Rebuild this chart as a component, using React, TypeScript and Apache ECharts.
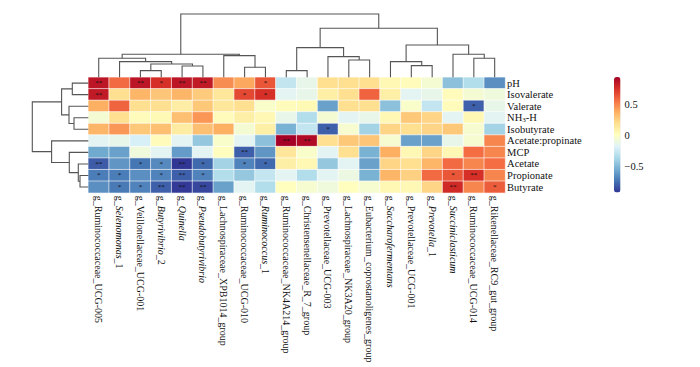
import React, { useEffect, useRef } from "react";
import * as echarts from "echarts";

// ---------- data ----------
const colNames = [
  "g_Ruminococcaceae_UCG-005",
  "g_Selenomonas_1",
  "g_Veillonellaceae_UCG-001",
  "g_Butyrivibrio_2",
  "g_Quinella",
  "g_Pseudobutyrivibrio",
  "g_Lachnospiraceae_XPB1014_group",
  "g_Ruminococcaceae_UCG-010",
  "g_Ruminococcus_1",
  "g_Ruminococcaceae_NK4A214_group",
  "g_Christensenellaceae_R_7_group",
  "g_Prevotellaceae_UCG-003",
  "g_Lachnospiraceae_NK3A20_group",
  "g_Eubacterium_coprostanoligenes_group",
  "g_Saccharofermentans",
  "g_Prevotellaceae_UCG-001",
  "g_Prevotella_1",
  "g_Succiniclasticum",
  "g_Ruminococcaceae_UCG-014",
  "g_Rikenellaceae_RC9_gut_group",
];
const italicGenera = [
  "Selenomonas",
  "Butyrivibrio",
  "Quinella",
  "Pseudobutyrivibrio",
  "Ruminococcus",
  "Saccharofermentans",
  "Prevotella",
  "Succiniclasticum",
];
const rowNames = [
  "pH",
  "Isovalerate",
  "Valerate",
  "NH3-H",
  "Isobutyrate",
  "Acetate:propinate",
  "MCP",
  "Acetate",
  "Propionate",
  "Butyrate",
];

// correlation values, one array per row (columns in dendrogram order)
const pH = [0.86, 0.58, 0.86, 0.76, 0.86, 0.84, 0.48, 0.4, 0.64, -0.27, -0.12, 0.2, 0.2, 0.2, 0.06, 0.03, -0.05, -0.46, -0.33, -0.64];
const isovalerate = [0.84, 0.2, 0.36, 0.3, 0.36, 0.28, 0.16, 0.68, 0.76, -0.15, -0.12, 0.11, 0.2, 0.6, 0.11, -0.15, -0.12, 0.03, -0.05, -0.08];
const valerate = [0.38, 0.6, 0.2, 0.2, 0.12, 0.29, 0.16, 0.2, -0.02, 0.03, 0.05, -0.58, 0.2, 0.2, -0.46, -0.02, -0.27, 0.03, -0.79, -0.12];
const nh3 = [-0.05, 0.2, 0.03, 0.05, 0.32, 0.45, 0.03, 0.11, 0.06, -0.12, -0.33, -0.05, -0.15, -0.12, 0.06, 0.29, 0.24, -0.15, 0.06, -0.15];
const isobutyrate = [0.36, 0.45, 0.29, 0.32, 0.13, 0.32, 0.38, -0.05, 0.11, -0.52, -0.27, -0.79, -0.04, -0.38, 0.24, 0.2, 0.24, 0.29, -0.04, -0.38];
const acetProp = [-0.15, -0.12, -0.2, 0.03, -0.15, -0.43, -0.02, -0.15, -0.46, 0.94, 0.9, 0.2, 0.29, 0.3, -0.04, -0.58, -0.58, -0.12, -0.04, 0.5];
const mcp = [-0.55, -0.58, -0.08, -0.15, -0.6, -0.15, 0.02, -0.79, -0.62, 0.16, -0.02, -0.15, 0.2, -0.52, 0.38, 0.06, 0.24, 0.06, 0.57, 0.5];
const acetate = [-0.8, -0.62, -0.72, -0.66, -0.91, -0.76, -0.38, -0.68, -0.76, 0.11, 0.06, -0.43, -0.15, -0.58, 0.24, 0.2, 0.36, 0.58, 0.5, 0.57];
const propionate = [-0.7, -0.7, -0.64, -0.68, -0.79, -0.68, -0.33, -0.43, -0.27, -0.15, -0.33, -0.15, -0.1, -0.52, 0.36, 0.26, 0.58, 0.64, 0.76, 0.5];
const butyrate = [-0.64, -0.71, -0.68, -0.79, -0.9, -0.86, -0.58, -0.15, -0.33, 0.02, -0.04, -0.08, 0.02, -0.04, 0.06, 0.06, 0.24, 0.78, 0.5, 0.62];
const corrRows = [pH, isovalerate, valerate, nh3, isobutyrate, acetProp, mcp, acetate, propionate, butyrate];

// significance marks
const sigPH = ["**", "", "**", "*", "**", "**", "", "", "*", "", "", "", "", "", "", "", "", "", "", ""];
const sigIsovalerate = ["**", "", "", "", "", "", "", "*", "*", "", "", "", "", "", "", "", "", "", "", ""];
const sigValerate = ["", "", "", "", "", "", "", "", "", "", "", "", "", "", "", "", "", "", "*", ""];
const sigNH3 = ["", "", "", "", "", "", "", "", "", "", "", "", "", "", "", "", "", "", "", ""];
const sigIsobutyrate = ["", "", "", "", "", "", "", "", "", "", "", "*", "", "", "", "", "", "", "", ""];
const sigAcetProp = ["", "", "", "", "", "", "", "", "", "**", "**", "", "", "", "", "", "", "", "", ""];
const sigMCP = ["", "", "", "", "", "", "", "**", "", "", "", "", "", "", "", "", "", "", "", ""];
const sigAcetate = ["**", "", "*", "*", "**", "*", "", "*", "*", "", "", "", "", "", "", "", "", "", "", ""];
const sigPropionate = ["*", "*", "", "*", "**", "*", "", "", "", "", "", "", "", "", "", "", "", "*", "**", ""];
const sigButyrate = ["", "*", "*", "**", "**", "**", "", "", "", "", "", "", "", "", "", "", "", "**", "", "*"];
const sigRows = [sigPH, sigIsovalerate, sigValerate, sigNH3, sigIsobutyrate, sigAcetProp, sigMCP, sigAcetate, sigPropionate, sigButyrate];

// hclust-style merges: negative = leaf (1-based, display order), positive = earlier merge; third = height
const colMerges: [number, number, number][] = [
  [-3, -4, 6.7],
  [-10, -11, 6.7],
  [-8, -9, 10],
  [-5, -6, 11.3],
  [-16, -17, 11.7],
  [1, 4, 13.3],
  [-2, 6, 15.7],
  [-15, 5, 15.7],
  [-13, -14, 17.3],
  [-1, 7, 19],
  [-19, -20, 19],
  [-12, 9, 20.7],
  [-7, 3, 21.7],
  [10, 13, 23],
  [-18, 11, 23],
  [2, 12, 29.7],
  [8, 15, 32.3],
  [16, 17, 49],
  [14, 18, 63.3],
];
const rowMerges: [number, number, number][] = [
  [-9, -10, 8.3],
  [-8, 1, 10],
  [-4, -5, 14.3],
  [-1, -2, 16],
  [-7, 2, 19],
  [-3, 3, 19.3],
  [4, 6, 26.7],
  [-6, 5, 36.7],
  [7, 8, 56],
];

const colorScale = ["#313695", "#4575b4", "#74add1", "#abd9e9", "#e0f3f8", "#ffffbf", "#fee090", "#fdae61", "#f46d43", "#d73027", "#a50026"];
const scaleMin = -0.91;
const scaleMax = 0.94;
const scaleTicks = [-0.5, 0, 0.5];

// ---------- helpers ----------
function buildSegments(merges: [number, number, number][]) {
  const pos: number[] = [];
  const hts: number[] = [];
  const segs: number[][] = [];
  merges.forEach(([a, b, h], i) => {
    const pa = a < 0 ? -a - 1 : pos[a - 1];
    const ha = a < 0 ? 0 : hts[a - 1];
    const pb = b < 0 ? -b - 1 : pos[b - 1];
    const hb = b < 0 ? 0 : hts[b - 1];
    pos[i] = (pa + pb) / 2;
    hts[i] = h;
    segs.push([pa, ha, pb, hb, h]);
  });
  return segs;
}

const FONT = "Liberation Serif";
const LINE = "#555555";

export default function App() {
  const ref = useRef<HTMLDivElement>(null);
  useEffect(() => {
    if (!ref.current) return;
    const chart = echarts.init(ref.current, null, { renderer: "svg" });

    const heatData: any[] = [];
    corrRows.forEach((row, r) =>
      row.forEach((v, c) => heatData.push([c, r, v, sigRows[r][c]]))
    );

    const colSegs = buildSegments(colMerges);
    const rowSegs = buildSegments(rowMerges);
    const colRoot = colMerges[colMerges.length - 1][2];
    const rowRoot = rowMerges[rowMerges.length - 1][2];

    // layout
    const hmLeft = 88.3, hmTop = 77.3, hmW = 416.8, hmH = 115.5;
    const cbLeft = 614, cbTop = 77, cbW = 6.5, cbH = 115.5;
    const pxPerUnit = cbH / (scaleMax - scaleMin);
    const axTop = cbTop - (1 - scaleMax) * pxPerUnit;
    const axH = 2 * pxPerUnit;

    const dendroItem = (horizontal: boolean) => (params: any, api: any) => {
      const pa = api.value(0), ha = api.value(1), pb = api.value(2), hb = api.value(3), h = api.value(4);
      const c = (p: number, hh: number) => (horizontal ? api.coord([p, hh]) : api.coord([hh, p]));
      return {
        type: "polyline",
        shape: { points: [c(pa, ha), c(pa, h), c(pb, h), c(pb, hb)] },
        style: { stroke: LINE, lineWidth: 1.1, fill: null },
      };
    };

    const colFormatter = (name: string) => {
      for (const g of italicGenera) {
        const i = name.indexOf(g);
        if (i >= 0 && (name[i + g.length] === undefined || name[i + g.length] === "_")) {
          return name.slice(0, i) + "{i|" + g + "}" + name.slice(i + g.length);
        }
      }
      return name;
    };

    chart.setOption({
      animation: false,
      backgroundColor: "#ffffff",
      grid: [
        { left: hmLeft, top: hmTop, width: hmW, height: hmH },
        { left: hmLeft, top: hmTop - colRoot, width: hmW, height: colRoot },
        { left: hmLeft - rowRoot, top: hmTop, width: rowRoot, height: hmH },
        { left: cbLeft, top: axTop, width: cbW, height: axH },
      ],
      xAxis: [
        {
          gridIndex: 0,
          type: "category",
          data: colNames,
          position: "bottom",
          axisLine: { show: false },
          axisTick: { show: false },
          splitLine: { show: false },
          axisLabel: {
            interval: 0,
            rotate: -90,
            margin: 3,
            fontSize: 10,
            fontFamily: FONT,
            color: "#111",
            formatter: colFormatter,
            rich: { i: { fontStyle: "italic", fontSize: 10, fontFamily: FONT, color: "#111" } },
          },
        },
        { gridIndex: 1, type: "value", min: -0.5, max: colNames.length - 0.5, show: false },
        { gridIndex: 2, type: "value", min: 0, max: rowRoot, inverse: true, show: false },
        { gridIndex: 3, type: "value", min: 0, max: 1, show: false },
      ],
      yAxis: [
        {
          gridIndex: 0,
          type: "category",
          data: rowNames,
          inverse: true,
          position: "right",
          axisLine: { show: false },
          axisTick: { show: false },
          splitLine: { show: false },
          axisLabel: {
            interval: 0,
            margin: 2,
            fontSize: 10.5,
            fontFamily: FONT,
            color: "#111",
            formatter: (n: string) => (n === "NH3-H" ? "NH{sub|3}-H" : n),
            rich: { sub: { fontSize: 7, fontFamily: FONT, color: "#111", verticalAlign: "bottom", lineHeight: 12 } },
          },
        },
        { gridIndex: 1, type: "value", min: 0, max: colRoot, show: false },
        { gridIndex: 2, type: "value", min: -0.5, max: rowNames.length - 0.5, inverse: true, show: false },
        {
          gridIndex: 3,
          type: "value",
          min: -1,
          max: 1,
          interval: 0.5,
          position: "right",
          axisLine: { show: false },
          axisTick: { show: false },
          splitLine: { show: false },
          axisLabel: {
            margin: 4,
            fontSize: 10.5,
            fontFamily: FONT,
            color: "#111",
            formatter: (v: number) =>
              scaleTicks.some((t) => Math.abs(t - v) < 1e-9) ? String(v).replace("-", "\u2212") : "",
          },
        },
      ],
      visualMap: {
        type: "continuous",
        min: scaleMin,
        max: scaleMax,
        dimension: 2,
        seriesIndex: 0,
        calculable: false,
        hoverLink: false,
        orient: "vertical",
        left: cbLeft,
        top: cbTop,
        padding: 0,
        itemWidth: cbW,
        itemHeight: cbH,
        text: ["", ""],
        showLabel: false,
        inRange: { color: colorScale },
      },
      series: [
        {
          type: "heatmap",
          xAxisIndex: 0,
          yAxisIndex: 0,
          data: heatData,
          itemStyle: { borderColor: "rgba(255,255,255,0.75)", borderWidth: 0.8 },
          label: {
            show: true,
            formatter: (p: any) => p.value[3] || "",
            fontSize: 7,
            fontFamily: FONT,
            color: "#111",
          },
          emphasis: { disabled: true },
          silent: true,
        },
        {
          type: "custom",
          xAxisIndex: 1,
          yAxisIndex: 1,
          data: colSegs,
          renderItem: dendroItem(true),
          silent: true,
          clip: false,
        },
        {
          type: "custom",
          xAxisIndex: 2,
          yAxisIndex: 2,
          data: rowSegs,
          renderItem: dendroItem(false),
          silent: true,
          clip: false,
        },
      ],
    });
    return () => chart.dispose();
  }, []);
  return (
    <div
      ref={ref}
      style={{ position: "fixed", left: 0, top: 0, width: 700, height: 367, background: "#fff" }}
    />
  );
}
